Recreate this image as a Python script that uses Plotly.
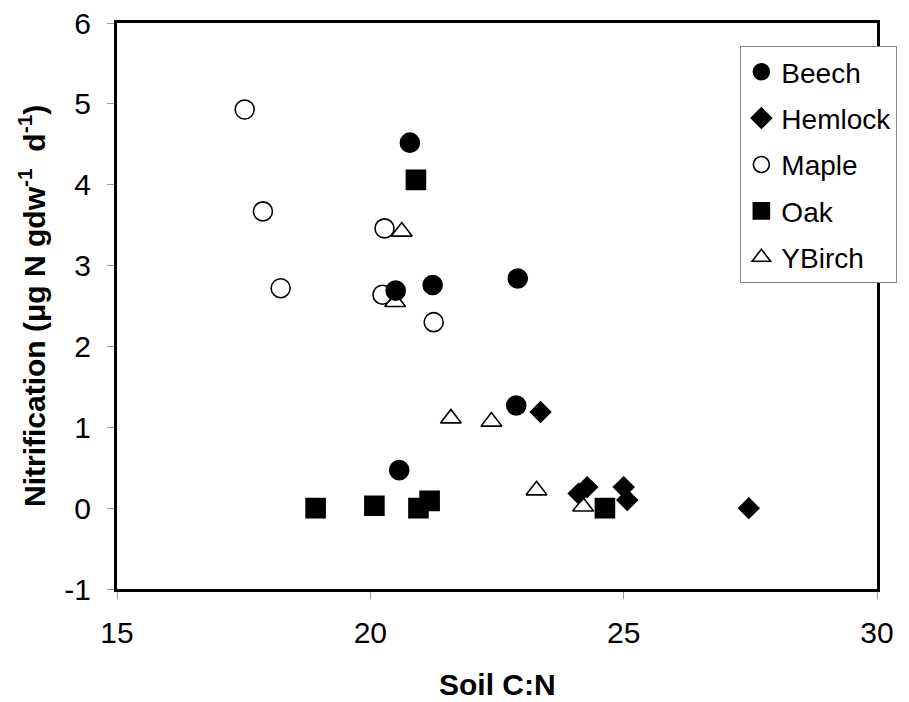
import plotly.graph_objects as go

beech_x = [20.78, 20.50, 21.23, 22.91, 22.88, 20.57]
beech_y = [4.52, 2.69, 2.76, 2.84, 1.27, 0.47]

hemlock_x = [23.36, 24.11, 24.28, 25.00, 25.07, 27.47]
hemlock_y = [1.19, 0.18, 0.26, 0.26, 0.10, 0.00]

maple_x = [17.52, 17.88, 18.23, 20.28, 20.24, 21.25]
maple_y = [4.93, 3.67, 2.72, 3.46, 2.64, 2.30]

oak_x = [20.90, 18.92, 20.08, 20.95, 21.17, 24.63]
oak_y = [4.06, 0.00, 0.03, 0.00, 0.09, 0.00]

ybirch_x = [20.62, 20.49, 21.59, 22.39, 23.28, 24.20]
ybirch_y = [3.42, 2.55, 1.11, 1.07, 0.22, 0.02]

x_ticks = [15, 20, 25, 30]
y_ticks = [-1, 0, 1, 2, 3, 4, 5, 6]

series = [
    ("Beech", beech_x, beech_y, "circle", "black", 19),
    ("Hemlock", hemlock_x, hemlock_y, "diamond", "black", 15.5),
    ("Maple", maple_x, maple_y, "circle-open", "black", 19),
    ("Oak", oak_x, oak_y, "square", "black", 19),
    ("YBirch", ybirch_x, ybirch_y, "triangle-up-open", "black", 18),
]

fig = go.Figure()
for name, xs, ys, sym, col, size in series:
    fig.add_trace(go.Scatter(
        x=xs, y=ys, mode="markers", name=name, legendgroup=name,
        marker=dict(symbol=sym, size=size, color=col,
                    line=dict(color="black", width=1.6)),
    ))

font = "Liberation Sans, Arial, sans-serif"
fig.update_layout(
    width=909, height=702,
    margin=dict(l=117, r=30, t=23, b=113),
    paper_bgcolor="white", plot_bgcolor="white",
    font=dict(family=font, size=30, color="black"),
    showlegend=True,
    legend=dict(
        x=0.8202, y=0.9594, xanchor="left", yanchor="top",
        bordercolor="#888888", borderwidth=1, bgcolor="white",
        font=dict(size=28, family=font),
        traceorder="grouped", tracegroupgap=7,
    ),
    xaxis=dict(
        range=[15, 30], tickvals=x_ticks, ticktext=[str(v) for v in x_ticks],
        showgrid=False, zeroline=False, automargin=False,
        showline=True, linecolor="black", linewidth=3, mirror=True,
        ticks="outside", ticklen=7, tickcolor="#999999", tickwidth=1,
        tickfont=dict(size=30), ticklabelstandoff=8,
    ),
    yaxis=dict(
        range=[-1, 6], tickvals=y_ticks, ticktext=[str(v) for v in y_ticks],
        showgrid=False, zeroline=False, automargin=False,
        showline=True, linecolor="black", linewidth=3, mirror=True,
        ticks="outside", ticklen=7, tickcolor="#999999", tickwidth=1,
        tickfont=dict(size=30), ticklabelstandoff=10,
    ),
    annotations=[
        dict(text="<b>Soil C:N</b>", xref="paper", yref="paper",
             x=0.5, y=0, yshift=-95, xanchor="center", yanchor="middle",
             showarrow=False, font=dict(size=30)),
        dict(text="<b>Nitrification (\u03bcg N gdw<sup>-1</sup>  d<sup>-1</sup>)</b>",
             xref="paper", yref="paper", x=0, y=0.5, xshift=-85,
             xanchor="center", yanchor="middle", textangle=-90,
             showarrow=False, font=dict(size=30)),
    ],
)

fig.write_html("out.html", config={"displayModeBar": False},
               post_script="document.body.style.margin='0';document.body.style.padding='0';")
